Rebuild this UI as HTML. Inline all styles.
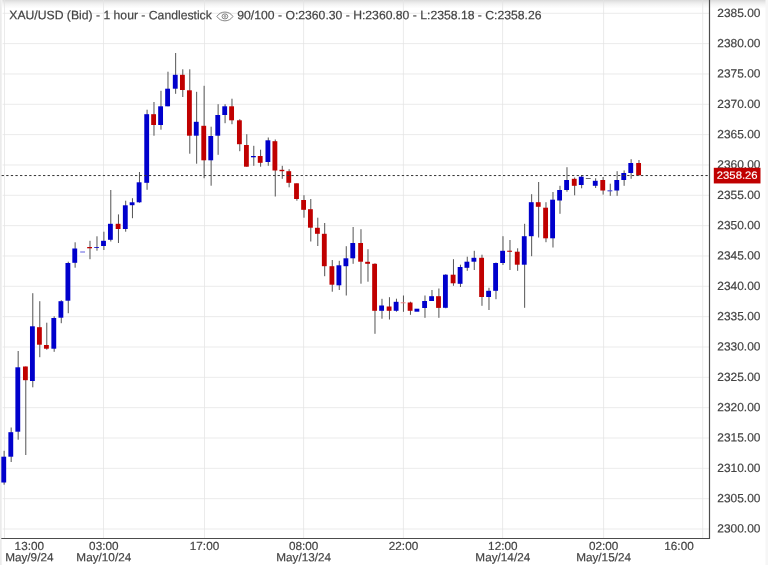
<!DOCTYPE html>
<html><head><meta charset="utf-8"><title>XAU/USD (Bid) - 1 hour - Candlestick</title>
<style>
html,body{margin:0;padding:0;background:#fff;}
body{width:768px;height:565px;overflow:hidden;position:relative;font-family:"Liberation Sans",Arial,sans-serif;}
svg{position:absolute;left:0;top:0;display:block;}
text{font-family:"Liberation Sans",Arial,sans-serif;fill:#444;stroke:#444;stroke-width:0.2px;}
.ax{font-size:11.95px;}
.tag{font-size:11.3px;}
.tm{font-size:11.75px;text-anchor:middle;}
.ttl{font-size:12.2px;}
</style></head><body>
<svg width="768" height="565" viewBox="0 0 768 565">
<defs>
<linearGradient id="tg" x1="0" y1="0" x2="0" y2="1"><stop offset="0" stop-color="#dadada"/><stop offset="0.25" stop-color="#e8e8e8"/><stop offset="0.5" stop-color="#f3f3f3"/><stop offset="1" stop-color="#ffffff"/></linearGradient>
<linearGradient id="lg" x1="0" y1="0" x2="1" y2="0"><stop offset="0" stop-color="#eaeaea"/><stop offset="0.55" stop-color="#ededed"/><stop offset="1" stop-color="#ffffff"/></linearGradient>
</defs>
<rect x="0" y="0" width="768" height="565" fill="#fff"/>
<rect x="0" y="0" width="768" height="8.5" fill="url(#tg)"/>
<rect x="0" y="0" width="2.3" height="565" fill="url(#lg)"/>
<rect x="765.5" y="0" width="2.5" height="565" fill="#f6f6f6"/>

<g stroke="#e4e4e4" stroke-width="0.75" fill="none">
<line x1="2.6" x2="709.5" y1="13.30" y2="13.30"/>
<line x1="2.6" x2="709.5" y1="43.64" y2="43.64"/>
<line x1="2.6" x2="709.5" y1="73.97" y2="73.97"/>
<line x1="2.6" x2="709.5" y1="104.30" y2="104.30"/>
<line x1="2.6" x2="709.5" y1="134.64" y2="134.64"/>
<line x1="2.6" x2="709.5" y1="164.98" y2="164.98"/>
<line x1="2.6" x2="709.5" y1="195.31" y2="195.31"/>
<line x1="2.6" x2="709.5" y1="225.65" y2="225.65"/>
<line x1="2.6" x2="709.5" y1="255.98" y2="255.98"/>
<line x1="2.6" x2="709.5" y1="286.31" y2="286.31"/>
<line x1="2.6" x2="709.5" y1="316.65" y2="316.65"/>
<line x1="2.6" x2="709.5" y1="346.99" y2="346.99"/>
<line x1="2.6" x2="709.5" y1="377.32" y2="377.32"/>
<line x1="2.6" x2="709.5" y1="407.66" y2="407.66"/>
<line x1="2.6" x2="709.5" y1="437.99" y2="437.99"/>
<line x1="2.6" x2="709.5" y1="468.33" y2="468.33"/>
<line x1="2.6" x2="709.5" y1="498.66" y2="498.66"/>
<line x1="2.6" x2="709.5" y1="529.00" y2="529.00"/>
<line x1="4.5" x2="4.5" y1="0" y2="538.5"/>
<line x1="103.5" x2="103.5" y1="0" y2="538.5"/>
<line x1="204.5" x2="204.5" y1="0" y2="538.5"/>
<line x1="303.6" x2="303.6" y1="0" y2="538.5"/>
<line x1="403.4" x2="403.4" y1="0" y2="538.5"/>
<line x1="502.6" x2="502.6" y1="0" y2="538.5"/>
<line x1="603.6" x2="603.6" y1="0" y2="538.5"/>
<line x1="702.7" x2="702.7" y1="0" y2="538.5"/>
</g>
<g>
<rect x="3.60" y="450.80" width="1.05" height="33.90" fill="#5c5c5c"/>
<rect x="1.33" y="456.70" width="4.84" height="25.80" fill="#0000cc"/>
<rect x="10.65" y="427.50" width="1.05" height="34.50" fill="#5c5c5c"/>
<rect x="8.38" y="432.20" width="4.84" height="24.50" fill="#0000cc"/>
<rect x="17.65" y="351.00" width="1.05" height="88.70" fill="#5c5c5c"/>
<rect x="15.38" y="367.30" width="4.84" height="64.40" fill="#0000cc"/>
<rect x="25.25" y="366.50" width="1.05" height="88.50" fill="#5c5c5c"/>
<rect x="22.98" y="366.50" width="4.84" height="13.70" fill="#c00000"/>
<rect x="32.25" y="293.20" width="1.05" height="94.10" fill="#5c5c5c"/>
<rect x="29.98" y="326.30" width="4.84" height="54.70" fill="#0000cc"/>
<rect x="39.25" y="301.20" width="1.05" height="56.00" fill="#5c5c5c"/>
<rect x="36.98" y="327.20" width="4.84" height="17.50" fill="#c00000"/>
<rect x="46.25" y="322.70" width="1.05" height="27.00" fill="#5c5c5c"/>
<rect x="43.98" y="345.00" width="4.84" height="3.70" fill="#c00000"/>
<rect x="53.65" y="316.30" width="1.05" height="35.50" fill="#5c5c5c"/>
<rect x="51.38" y="318.00" width="4.84" height="30.70" fill="#0000cc"/>
<rect x="60.75" y="300.20" width="1.05" height="23.00" fill="#5c5c5c"/>
<rect x="58.48" y="301.20" width="4.84" height="16.50" fill="#0000cc"/>
<rect x="67.75" y="261.70" width="1.05" height="51.50" fill="#5c5c5c"/>
<rect x="65.48" y="263.00" width="4.84" height="37.70" fill="#0000cc"/>
<rect x="74.60" y="242.30" width="1.05" height="25.40" fill="#5c5c5c"/>
<rect x="72.33" y="248.50" width="4.84" height="14.30" fill="#0000cc"/>
<rect x="80.18" y="251.30" width="4.84" height="1.40" fill="#8c8cea"/>
<rect x="89.45" y="240.80" width="1.05" height="18.40" fill="#5c5c5c"/>
<rect x="87.18" y="247.00" width="4.84" height="1.30" fill="#c00000"/>
<rect x="96.45" y="236.30" width="1.05" height="14.40" fill="#5c5c5c"/>
<rect x="94.18" y="247.00" width="4.84" height="0.80" fill="#0000cc"/>
<rect x="103.35" y="231.70" width="1.05" height="18.30" fill="#5c5c5c"/>
<rect x="101.08" y="240.80" width="4.84" height="5.20" fill="#0000cc"/>
<rect x="110.25" y="190.00" width="1.05" height="51.50" fill="#5c5c5c"/>
<rect x="107.98" y="223.80" width="4.84" height="16.00" fill="#0000cc"/>
<rect x="117.95" y="214.40" width="1.05" height="28.60" fill="#5c5c5c"/>
<rect x="115.68" y="223.80" width="4.84" height="5.20" fill="#c00000"/>
<rect x="125.15" y="200.70" width="1.05" height="31.00" fill="#5c5c5c"/>
<rect x="122.88" y="205.30" width="4.84" height="23.70" fill="#0000cc"/>
<rect x="131.95" y="198.20" width="1.05" height="20.00" fill="#5c5c5c"/>
<rect x="129.68" y="202.30" width="4.84" height="2.90" fill="#0000cc"/>
<rect x="138.95" y="172.00" width="1.05" height="30.70" fill="#5c5c5c"/>
<rect x="136.68" y="182.30" width="4.84" height="20.00" fill="#0000cc"/>
<rect x="146.55" y="109.70" width="1.05" height="80.10" fill="#5c5c5c"/>
<rect x="144.28" y="114.20" width="4.84" height="68.60" fill="#0000cc"/>
<rect x="153.45" y="102.00" width="1.05" height="33.70" fill="#5c5c5c"/>
<rect x="151.18" y="114.20" width="4.84" height="10.80" fill="#c00000"/>
<rect x="160.45" y="90.80" width="1.05" height="38.90" fill="#5c5c5c"/>
<rect x="158.18" y="106.30" width="4.84" height="18.70" fill="#0000cc"/>
<rect x="167.45" y="71.70" width="1.05" height="34.60" fill="#5c5c5c"/>
<rect x="165.18" y="88.70" width="4.84" height="17.60" fill="#0000cc"/>
<rect x="175.10" y="53.00" width="1.05" height="40.80" fill="#5c5c5c"/>
<rect x="172.83" y="74.80" width="4.84" height="13.90" fill="#0000cc"/>
<rect x="182.25" y="69.30" width="1.05" height="27.70" fill="#5c5c5c"/>
<rect x="179.98" y="74.80" width="4.84" height="15.20" fill="#c00000"/>
<rect x="189.25" y="69.30" width="1.05" height="84.40" fill="#5c5c5c"/>
<rect x="186.98" y="90.30" width="4.84" height="45.40" fill="#c00000"/>
<rect x="196.10" y="91.80" width="1.05" height="71.90" fill="#5c5c5c"/>
<rect x="193.83" y="121.80" width="4.84" height="13.90" fill="#0000cc"/>
<rect x="203.60" y="85.80" width="1.05" height="92.40" fill="#5c5c5c"/>
<rect x="201.33" y="125.80" width="4.84" height="34.50" fill="#c00000"/>
<rect x="210.60" y="126.70" width="1.05" height="59.00" fill="#5c5c5c"/>
<rect x="208.33" y="136.00" width="4.84" height="24.30" fill="#0000cc"/>
<rect x="217.60" y="104.20" width="1.05" height="50.60" fill="#5c5c5c"/>
<rect x="215.33" y="115.00" width="4.84" height="20.70" fill="#0000cc"/>
<rect x="224.55" y="104.20" width="1.05" height="19.00" fill="#5c5c5c"/>
<rect x="222.28" y="106.30" width="4.84" height="8.70" fill="#0000cc"/>
<rect x="231.45" y="98.70" width="1.05" height="25.50" fill="#5c5c5c"/>
<rect x="229.18" y="106.30" width="4.84" height="14.00" fill="#c00000"/>
<rect x="239.25" y="119.20" width="1.05" height="32.00" fill="#5c5c5c"/>
<rect x="236.98" y="120.30" width="4.84" height="23.90" fill="#c00000"/>
<rect x="246.25" y="134.20" width="1.05" height="32.50" fill="#5c5c5c"/>
<rect x="243.98" y="145.00" width="4.84" height="21.70" fill="#c00000"/>
<rect x="253.25" y="145.80" width="1.05" height="20.00" fill="#5c5c5c"/>
<rect x="250.98" y="156.00" width="4.84" height="1.30" fill="#0000cc"/>
<rect x="260.05" y="149.70" width="1.05" height="17.00" fill="#5c5c5c"/>
<rect x="257.78" y="156.00" width="4.84" height="6.80" fill="#c00000"/>
<rect x="267.75" y="137.50" width="1.05" height="28.30" fill="#5c5c5c"/>
<rect x="265.48" y="140.30" width="4.84" height="21.70" fill="#0000cc"/>
<rect x="274.75" y="139.50" width="1.05" height="57.00" fill="#5c5c5c"/>
<rect x="272.48" y="141.20" width="4.84" height="29.30" fill="#c00000"/>
<rect x="281.75" y="165.80" width="1.05" height="13.00" fill="#5c5c5c"/>
<rect x="279.48" y="169.80" width="4.84" height="1.40" fill="#c00000"/>
<rect x="288.60" y="169.20" width="1.05" height="18.10" fill="#5c5c5c"/>
<rect x="286.33" y="171.20" width="4.84" height="11.60" fill="#c00000"/>
<rect x="296.35" y="183.30" width="1.05" height="17.40" fill="#5c5c5c"/>
<rect x="294.08" y="183.30" width="4.84" height="15.70" fill="#c00000"/>
<rect x="303.45" y="195.20" width="1.05" height="22.50" fill="#5c5c5c"/>
<rect x="301.18" y="200.00" width="4.84" height="9.80" fill="#c00000"/>
<rect x="310.25" y="199.00" width="1.05" height="42.50" fill="#5c5c5c"/>
<rect x="307.98" y="209.20" width="4.84" height="18.50" fill="#c00000"/>
<rect x="317.25" y="217.70" width="1.05" height="28.30" fill="#5c5c5c"/>
<rect x="314.98" y="227.80" width="4.84" height="6.00" fill="#c00000"/>
<rect x="324.15" y="223.00" width="1.05" height="53.20" fill="#5c5c5c"/>
<rect x="321.88" y="233.80" width="4.84" height="32.40" fill="#c00000"/>
<rect x="331.75" y="260.00" width="1.05" height="31.70" fill="#5c5c5c"/>
<rect x="329.48" y="266.20" width="4.84" height="18.50" fill="#c00000"/>
<rect x="338.75" y="260.80" width="1.05" height="29.20" fill="#5c5c5c"/>
<rect x="336.48" y="265.30" width="4.84" height="20.00" fill="#0000cc"/>
<rect x="345.75" y="246.20" width="1.05" height="49.30" fill="#5c5c5c"/>
<rect x="343.48" y="258.30" width="4.84" height="7.90" fill="#0000cc"/>
<rect x="352.60" y="227.00" width="1.05" height="36.80" fill="#5c5c5c"/>
<rect x="350.33" y="243.00" width="4.84" height="15.30" fill="#0000cc"/>
<rect x="360.45" y="229.20" width="1.05" height="54.50" fill="#5c5c5c"/>
<rect x="358.18" y="243.00" width="4.84" height="18.70" fill="#c00000"/>
<rect x="367.45" y="249.20" width="1.05" height="32.50" fill="#5c5c5c"/>
<rect x="365.18" y="261.80" width="4.84" height="2.00" fill="#c00000"/>
<rect x="374.45" y="263.30" width="1.05" height="70.50" fill="#5c5c5c"/>
<rect x="372.18" y="263.80" width="4.84" height="47.00" fill="#c00000"/>
<rect x="381.45" y="298.80" width="1.05" height="19.90" fill="#5c5c5c"/>
<rect x="379.18" y="305.50" width="4.84" height="5.30" fill="#0000cc"/>
<rect x="388.95" y="297.20" width="1.05" height="22.30" fill="#5c5c5c"/>
<rect x="386.68" y="306.50" width="4.84" height="4.30" fill="#c00000"/>
<rect x="395.95" y="298.70" width="1.05" height="13.00" fill="#5c5c5c"/>
<rect x="393.68" y="301.80" width="4.84" height="9.00" fill="#0000cc"/>
<rect x="402.95" y="295.50" width="1.05" height="16.30" fill="#5c5c5c"/>
<rect x="400.68" y="302.30" width="4.84" height="1.00" fill="#e88080"/>
<rect x="409.95" y="301.70" width="1.05" height="13.10" fill="#5c5c5c"/>
<rect x="407.68" y="302.50" width="4.84" height="8.30" fill="#c00000"/>
<rect x="414.48" y="308.70" width="4.84" height="3.00" fill="#0000cc"/>
<rect x="424.45" y="295.50" width="1.05" height="22.30" fill="#5c5c5c"/>
<rect x="422.18" y="301.00" width="4.84" height="7.00" fill="#0000cc"/>
<rect x="431.45" y="290.00" width="1.05" height="11.00" fill="#5c5c5c"/>
<rect x="429.18" y="296.20" width="4.84" height="4.80" fill="#0000cc"/>
<rect x="438.35" y="288.50" width="1.05" height="29.30" fill="#5c5c5c"/>
<rect x="436.08" y="296.20" width="4.84" height="11.70" fill="#c00000"/>
<rect x="445.25" y="274.20" width="1.05" height="34.10" fill="#5c5c5c"/>
<rect x="442.98" y="274.70" width="4.84" height="33.10" fill="#0000cc"/>
<rect x="452.95" y="259.20" width="1.05" height="26.60" fill="#5c5c5c"/>
<rect x="450.68" y="274.70" width="4.84" height="8.60" fill="#c00000"/>
<rect x="459.95" y="264.70" width="1.05" height="22.30" fill="#5c5c5c"/>
<rect x="457.68" y="267.00" width="4.84" height="16.80" fill="#0000cc"/>
<rect x="466.75" y="256.70" width="1.05" height="14.10" fill="#5c5c5c"/>
<rect x="464.48" y="261.70" width="4.84" height="6.10" fill="#0000cc"/>
<rect x="473.75" y="250.80" width="1.05" height="19.20" fill="#5c5c5c"/>
<rect x="471.48" y="257.80" width="4.84" height="3.90" fill="#0000cc"/>
<rect x="481.45" y="254.70" width="1.05" height="51.10" fill="#5c5c5c"/>
<rect x="479.18" y="257.80" width="4.84" height="39.20" fill="#c00000"/>
<rect x="488.45" y="287.80" width="1.05" height="22.20" fill="#5c5c5c"/>
<rect x="486.18" y="290.80" width="4.84" height="6.20" fill="#0000cc"/>
<rect x="495.45" y="262.50" width="1.05" height="36.70" fill="#5c5c5c"/>
<rect x="493.18" y="263.00" width="4.84" height="27.80" fill="#0000cc"/>
<rect x="502.45" y="236.20" width="1.05" height="28.80" fill="#5c5c5c"/>
<rect x="500.18" y="250.80" width="4.84" height="12.20" fill="#0000cc"/>
<rect x="509.45" y="240.00" width="1.05" height="30.00" fill="#5c5c5c"/>
<rect x="507.18" y="250.70" width="4.84" height="1.10" fill="#c00000"/>
<rect x="517.10" y="248.30" width="1.05" height="22.50" fill="#5c5c5c"/>
<rect x="514.83" y="251.70" width="4.84" height="13.00" fill="#c00000"/>
<rect x="524.10" y="223.80" width="1.05" height="84.00" fill="#5c5c5c"/>
<rect x="521.83" y="236.20" width="4.84" height="28.50" fill="#0000cc"/>
<rect x="531.10" y="194.20" width="1.05" height="62.00" fill="#5c5c5c"/>
<rect x="528.83" y="202.20" width="4.84" height="34.00" fill="#0000cc"/>
<rect x="538.10" y="182.00" width="1.05" height="55.50" fill="#5c5c5c"/>
<rect x="535.83" y="202.20" width="4.84" height="4.60" fill="#c00000"/>
<rect x="545.45" y="202.20" width="1.05" height="40.00" fill="#5c5c5c"/>
<rect x="543.18" y="207.70" width="4.84" height="30.60" fill="#c00000"/>
<rect x="552.45" y="192.00" width="1.05" height="55.50" fill="#5c5c5c"/>
<rect x="550.18" y="199.70" width="4.84" height="38.60" fill="#0000cc"/>
<rect x="559.45" y="185.80" width="1.05" height="28.00" fill="#5c5c5c"/>
<rect x="557.18" y="190.00" width="4.84" height="10.50" fill="#0000cc"/>
<rect x="566.45" y="167.20" width="1.05" height="24.50" fill="#5c5c5c"/>
<rect x="564.18" y="180.00" width="4.84" height="10.00" fill="#0000cc"/>
<rect x="574.10" y="177.50" width="1.05" height="17.80" fill="#5c5c5c"/>
<rect x="571.83" y="178.80" width="4.84" height="7.00" fill="#c00000"/>
<rect x="581.10" y="175.00" width="1.05" height="13.30" fill="#5c5c5c"/>
<rect x="578.83" y="176.70" width="4.84" height="8.30" fill="#0000cc"/>
<rect x="585.83" y="178.20" width="4.84" height="0.80" fill="#444"/>
<rect x="595.10" y="178.30" width="1.05" height="9.70" fill="#5c5c5c"/>
<rect x="592.83" y="180.80" width="4.84" height="5.00" fill="#0000cc"/>
<rect x="602.60" y="177.00" width="1.05" height="17.60" fill="#5c5c5c"/>
<rect x="600.33" y="180.00" width="4.84" height="10.50" fill="#c00000"/>
<rect x="609.75" y="183.70" width="1.05" height="12.10" fill="#5c5c5c"/>
<rect x="607.48" y="190.20" width="4.84" height="1.20" fill="#5050dc"/>
<rect x="616.60" y="171.20" width="1.05" height="24.60" fill="#5c5c5c"/>
<rect x="614.33" y="180.00" width="4.84" height="10.50" fill="#0000cc"/>
<rect x="623.60" y="170.40" width="1.05" height="15.40" fill="#5c5c5c"/>
<rect x="621.33" y="173.00" width="4.84" height="7.00" fill="#0000cc"/>
<rect x="630.60" y="159.20" width="1.05" height="19.60" fill="#5c5c5c"/>
<rect x="628.33" y="163.00" width="4.84" height="10.00" fill="#0000cc"/>
<rect x="638.45" y="160.00" width="1.05" height="15.30" fill="#5c5c5c"/>
<rect x="636.18" y="163.00" width="4.84" height="12.30" fill="#c00000"/>
</g>
<line x1="1.62" x2="708" y1="175.55" y2="175.55" stroke="#333" stroke-width="1" stroke-dasharray="2.3 2.3"/>
<line x1="709.5" x2="709.5" y1="0" y2="539.0" stroke="#4c4c4c" stroke-width="1.2"/>
<line x1="1.3" x2="710.0" y1="538.5" y2="538.5" stroke="#4c4c4c" stroke-width="1.2"/>
<text class="ax" transform="matrix(1 0.0005 0 1 717.3 16.90)">2385.00</text>
<text class="ax" transform="matrix(1 0.0005 0 1 717.3 47.24)">2380.00</text>
<text class="ax" transform="matrix(1 0.0005 0 1 717.3 77.57)">2375.00</text>
<text class="ax" transform="matrix(1 0.0005 0 1 717.3 107.90)">2370.00</text>
<text class="ax" transform="matrix(1 0.0005 0 1 717.3 138.24)">2365.00</text>
<text class="ax" transform="matrix(1 0.0005 0 1 717.3 168.58)">2360.00</text>
<text class="ax" transform="matrix(1 0.0005 0 1 717.3 198.91)">2355.00</text>
<text class="ax" transform="matrix(1 0.0005 0 1 717.3 229.25)">2350.00</text>
<text class="ax" transform="matrix(1 0.0005 0 1 717.3 259.58)">2345.00</text>
<text class="ax" transform="matrix(1 0.0005 0 1 717.3 289.92)">2340.00</text>
<text class="ax" transform="matrix(1 0.0005 0 1 717.3 320.25)">2335.00</text>
<text class="ax" transform="matrix(1 0.0005 0 1 717.3 350.59)">2330.00</text>
<text class="ax" transform="matrix(1 0.0005 0 1 717.3 380.92)">2325.00</text>
<text class="ax" transform="matrix(1 0.0005 0 1 717.3 411.26)">2320.00</text>
<text class="ax" transform="matrix(1 0.0005 0 1 717.3 441.59)">2315.00</text>
<text class="ax" transform="matrix(1 0.0005 0 1 717.3 471.93)">2310.00</text>
<text class="ax" transform="matrix(1 0.0005 0 1 717.3 502.26)">2305.00</text>
<text class="ax" transform="matrix(1 0.0005 0 1 717.3 532.60)">2300.00</text>
<rect x="713.8" y="167.8" width="46.7" height="15.65" fill="#c00000"/>
<text class="tag" transform="matrix(1 0.0005 0 0.93 716.8 178.8)" style="fill:#fff;stroke:#fff;stroke-width:0.15px">2358.26</text>
<text class="tm" transform="matrix(1 0.0005 0 1 29.3 550.00)">13:00</text>
<text class="tm" transform="matrix(1 0.0005 0 1 29.3 561.30)">May/9/24</text>
<text class="tm" transform="matrix(1 0.0005 0 1 103.8 550.00)">03:00</text>
<text class="tm" transform="matrix(1 0.0005 0 1 103.8 561.30)">May/10/24</text>
<text class="tm" transform="matrix(1 0.0005 0 1 204.5 550.00)">17:00</text>
<text class="tm" transform="matrix(1 0.0005 0 1 303.7 550.00)">08:00</text>
<text class="tm" transform="matrix(1 0.0005 0 1 303.7 561.30)">May/13/24</text>
<text class="tm" transform="matrix(1 0.0005 0 1 403.5 550.00)">22:00</text>
<text class="tm" transform="matrix(1 0.0005 0 1 502.8 550.00)">12:00</text>
<text class="tm" transform="matrix(1 0.0005 0 1 502.8 561.30)">May/14/24</text>
<text class="tm" transform="matrix(1 0.0005 0 1 603.6 550.00)">02:00</text>
<text class="tm" transform="matrix(1 0.0005 0 1 603.6 561.30)">May/15/24</text>
<text class="tm" transform="matrix(1 0.0005 0 1 679 550.00)">16:00</text>
<text class="ttl" transform="matrix(1 0.0005 0 1 9.3 19.20)">XAU/USD (Bid) - 1 hour - Candlestick</text>
<g fill="none" stroke="#777" stroke-width="0.9"><path d="M216.9 16.45 C220.5 10.6 229.3 10.6 232.9 16.45 C229.3 22.3 220.5 22.3 216.9 16.45 Z"/><ellipse cx="224.9" cy="16.45" rx="2.9" ry="2.5"/><circle cx="224.9" cy="16.45" r="0.9"/></g>
<text class="ttl" transform="matrix(1 0.0005 0 1 237.3 19.20)">90/100 - O:2360.30 - H:2360.80 - L:2358.18 - C:2358.26</text>
</svg>
</body></html>
